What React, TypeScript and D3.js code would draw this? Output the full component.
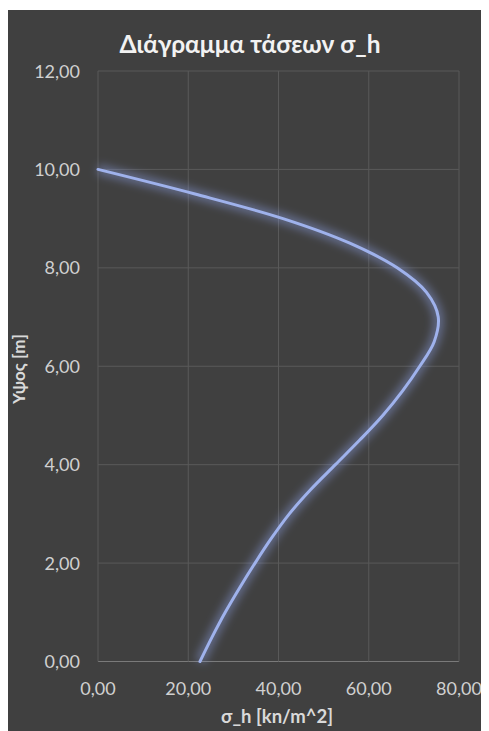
import React from "react";
import * as d3 from "d3";

// Height above base (m) and horizontal stress σ_h (kN/m²)
const heights = [0, 0.5, 1, 1.5, 2, 2.5, 3, 3.5, 4, 4.5, 5, 5.5, 6, 6.5, 7, 7.5, 8, 8.5, 9, 9.5, 10];
const sigmaH = [22.6, 25.3, 28.2, 31.4, 34.8, 38.4, 42.4, 47.2, 52.6, 58.0, 63.1, 67.5, 71.3, 74.5, 75.4, 72.8, 66.3, 55.8, 41.0, 21.5, 0];

const xTicks = [0, 20, 40, 60, 80];
const yTicks = [0, 2, 4, 6, 8, 10, 12];

const W = 481;
const H = 723;
const fmt = (v: number) => v.toFixed(2).replace(".", ",");

export default function App() {
  const x = d3.scaleLinear().domain([0, 80]).range([90, 451]);
  const y = d3.scaleLinear().domain([0, 12]).range([653.5, 63]);
  const pts = heights.map((h, i) => [sigmaH[i], h] as [number, number]);
  const line = d3
    .line<[number, number]>()
    .x((d) => x(d[0]))
    .y((d) => y(d[1]))
    .curve(d3.curveCatmullRom.alpha(0.5));
  const path = line(pts) || "";
  const font = "Lato, 'Open Sans', sans-serif";

  return (
    <svg width={W} height={H} style={{ display: "block" }} fontFamily={font}>
      <defs>
        <filter id="glow" x="-20%" y="-20%" width="140%" height="140%">
          <feGaussianBlur stdDeviation="4.5" />
        </filter>
      </defs>
      <rect x={0} y={2} width={W} height={H - 2} fill="#404040" />
      <text x={242} y={45} textAnchor="middle" fill="#f2f2f2" fontSize={24.5} fontWeight="bold">
        Διάγραμμα τάσεων σ_h
      </text>
      {yTicks.map((t) => (
        <g key={"y" + t}>
          <line x1={x(0)} x2={x(80)} y1={y(t)} y2={y(t)} stroke={t === 0 ? "#7a7a7a" : "#595959"} strokeWidth={1} />
          <text x={72} y={y(t) + 6.5} textAnchor="end" fill="#d0d0d0" fontSize={18}>
            {fmt(t)}
          </text>
        </g>
      ))}
      {xTicks.map((t) => (
        <g key={"x" + t}>
          <line x1={x(t)} x2={x(t)} y1={y(0)} y2={y(12)} stroke="#595959" strokeWidth={1} />
          <text x={x(t)} y={687} textAnchor="middle" fill="#d0d0d0" fontSize={18}>
            {fmt(t)}
          </text>
        </g>
      ))}
      <path d={path} fill="none" stroke="#8fa2e6" strokeWidth={10} strokeOpacity={0.45} filter="url(#glow)" />
      <path d={path} fill="none" stroke="#9fb2ec" strokeWidth={3} strokeLinecap="round" />
      <text x={269} y={715} textAnchor="middle" fill="#d9d9d9" fontSize={18.5} fontWeight="bold">
        σ_h [kn/m^2]
      </text>
      <text
        transform={`translate(17,361) rotate(-90)`}
        textAnchor="middle"
        fill="#d9d9d9"
        fontSize={17}
        fontWeight="bold"
      >
        Υψος [m]
      </text>
    </svg>
  );
}
